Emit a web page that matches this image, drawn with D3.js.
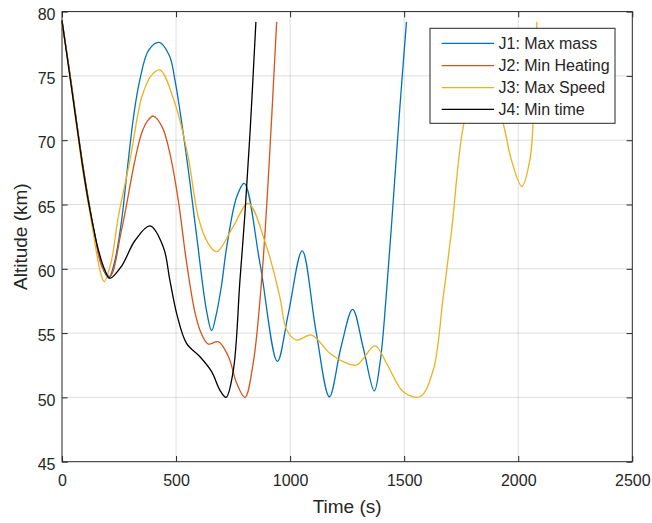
<!DOCTYPE html>
<html>
<head>
<meta charset="utf-8">
<script src="https://cdn.jsdelivr.net/npm/d3@7"></script>
<style>
  html, body { margin: 0; padding: 0; background: #fff; }
  svg { display: block; font-family: "Liberation Sans", Arial, Helvetica, sans-serif; }
</style>
</head>
<body>
<svg id="chart" width="652" height="523"></svg>
<script>
// ---- Data ----
const xTicks = [0, 500, 1000, 1500, 2000, 2500];
const yTicks = [45, 50, 55, 60, 65, 70, 75, 80];
const seriesNames = ["J1: Max mass", "J2: Min Heating", "J3: Max Speed", "J4: Min time"];
const seriesColors = ["#0072BD", "#D95319", "#EDB120", "#000000"];

const t1 = [0, 40, 90, 140, 175, 205, 230, 260, 291, 315, 340, 380, 426, 470, 495, 546, 590, 633, 656, 678, 700, 722, 766, 799, 868, 944, 992, 1053, 1113, 1172, 1223, 1274, 1320, 1369, 1395, 1420, 1445, 1480, 1510];
const alt1 = [79.3, 74.5, 68.2, 63.0, 60.2, 59.3, 60.5, 63.6, 68.5, 72.0, 74.6, 77.0, 77.6, 76.6, 74.7, 68.7, 62.6, 56.8, 55.2, 56.6, 58.8, 61.7, 65.6, 66.65, 60.4, 52.8, 56.5, 61.4, 55.2, 50.05, 53.9, 56.85, 53.9, 50.5, 52.8, 57.6, 63.5, 72.3, 79.2];

const t2 = [0, 40, 90, 140, 175, 210, 261, 320, 349, 375, 400, 440, 475, 510, 546, 583, 610, 641, 685, 729, 766, 802, 838, 875, 904, 941];
const alt2 = [79.3, 74.5, 68.2, 63.0, 60.2, 59.4, 63.0, 68.46, 70.54, 71.5, 71.88, 71.0, 68.8, 65.3, 60.5, 56.6, 55.0, 54.15, 54.33, 53.2, 51.1, 50.0, 52.65, 59.1, 66.9, 79.2];

const t3 = [0, 40, 90, 137, 165, 185, 215, 247, 298, 349, 390, 429, 495, 553, 597, 640, 678, 751, 816, 897, 955, 985, 1028, 1094, 1174, 1233, 1291, 1372, 1423, 1496, 1569, 1627, 1671, 1708, 1759, 1840, 1934, 1970, 2016, 2051, 2065, 2082];
const alt3 = [79.3, 74.3, 67.8, 62.8, 60.0, 59.0, 60.5, 64.05, 68.45, 73.3, 75.0, 75.46, 72.87, 68.7, 64.05, 62.0, 61.33, 63.3, 65.09, 61.7, 57.8, 55.24, 54.46, 54.85, 53.43, 52.78, 52.52, 54.0, 52.65, 50.44, 50.05, 52.1, 57.8, 63.0, 71.05, 76.5, 71.3, 68.46, 66.4, 68.46, 71.3, 79.2];

const t4 = [0, 40, 86, 115, 159, 188, 210, 261, 320, 386, 444, 473, 503, 546, 605, 656, 692, 719, 751, 780, 802, 824, 850];
const alt4 = [79.3, 74.3, 68.5, 65.3, 61.5, 59.9, 59.26, 60.2, 62.2, 63.33, 61.7, 59.1, 56.5, 54.2, 53.16, 52.0, 50.57, 50.0, 52.1, 59.1, 64.3, 70.5, 79.2];

const seriesT = [t1, t2, t3, t4];
const seriesAlt = [alt1, alt2, alt3, alt4];

(function () {
// ---- Layout ----
const svg = d3.select("#chart");
const pL = 62, pR = 632.3, pT = 11.6, pB = 461.7;
const axisColor = "#262626";
const tickLen = 5.7;

const x = d3.scaleLinear().domain([0, 2500]).range([pL, pR]);
const y = d3.scaleLinear().domain([45, 80]).range([pB, pT]);

svg.append("rect").attr("x", 0).attr("y", 0).attr("width", 652).attr("height", 523).attr("fill", "#fff");

// grid
const grid = svg.append("g");
grid.selectAll("line.gx").data(xTicks.slice(1, -1)).join("line")
  .attr("x1", d => x(d)).attr("x2", d => x(d)).attr("y1", pT).attr("y2", pB)
  .attr("stroke", axisColor).attr("stroke-opacity", 0.15).attr("stroke-width", 1);
grid.selectAll("line.gy").data(yTicks.slice(1, -1)).join("line")
  .attr("y1", d => y(d)).attr("y2", d => y(d)).attr("x1", pL).attr("x2", pR)
  .attr("stroke", axisColor).attr("stroke-opacity", 0.15).attr("stroke-width", 1);

// series
const line = d3.line().curve(d3.curveCatmullRom.alpha(0.5)).x(d => x(d[0])).y(d => y(d[1]));
const plot = svg.append("g");
seriesT.forEach((ts, i) => {
  const pts = ts.map((t, j) => [t, seriesAlt[i][j]]);
  plot.append("path").datum(pts)
    .attr("d", line)
    .attr("fill", "none")
    .attr("stroke", seriesColors[i])
    .attr("stroke-width", 1.3)
    .attr("stroke-linejoin", "round");
});

// axes
function styleAxis(g, showLabels) {
  g.select(".domain").remove();
  g.selectAll(".tick line").attr("stroke", axisColor).attr("stroke-width", 1);
  g.selectAll(".tick text").attr("fill", axisColor).attr("font-size", 16)
    .attr("font-family", "'Liberation Sans', Arial, Helvetica, sans-serif");
  if (!showLabels) g.selectAll(".tick text").remove();
}
svg.append("g").attr("transform", `translate(0,${pB})`)
  .call(d3.axisBottom(x).tickValues(xTicks).tickFormat(d3.format("d")).tickSizeInner(-tickLen).tickSizeOuter(0).tickPadding(13.4))
  .call(g => styleAxis(g, true));
svg.append("g").attr("transform", `translate(0,${pT})`)
  .call(d3.axisTop(x).tickValues(xTicks).tickSizeInner(-tickLen).tickSizeOuter(0))
  .call(g => styleAxis(g, false));
const yAx = svg.append("g").attr("transform", `translate(${pL},0)`)
  .call(d3.axisLeft(y).tickValues(yTicks).tickFormat(d3.format("d")).tickSizeInner(-tickLen).tickSizeOuter(0).tickPadding(6.5))
  .call(g => styleAxis(g, true));
yAx.selectAll(".tick text").attr("dy", "0.48em");
svg.append("g").attr("transform", `translate(${pR},0)`)
  .call(d3.axisRight(y).tickValues(yTicks).tickSizeInner(-tickLen).tickSizeOuter(0))
  .call(g => styleAxis(g, false));

// box
svg.append("rect").attr("x", pL).attr("y", pT).attr("width", pR - pL).attr("height", pB - pT)
  .attr("fill", "none").attr("stroke", axisColor).attr("stroke-width", 1);

// axis labels
svg.append("text").attr("x", (pL + pR) / 2).attr("y", 513.3)
  .attr("text-anchor", "middle").attr("font-size", 19).attr("fill", axisColor).text("Time (s)");
svg.append("text").attr("transform", `translate(26.7,${(pT + pB) / 2}) rotate(-90)`)
  .attr("text-anchor", "middle").attr("font-size", 19).attr("fill", axisColor).text("Altitude (km)");

// legend
const lg = svg.append("g");
lg.append("rect").attr("x", 430).attr("y", 28.3).attr("width", 185).attr("height", 95)
  .attr("fill", "#fff").attr("stroke", axisColor).attr("stroke-width", 1);
const rowY = [43.3, 65.7, 87.7, 109.3];
seriesNames.forEach((name, i) => {
  lg.append("line").attr("x1", 441.7).attr("x2", 494).attr("y1", rowY[i]).attr("y2", rowY[i])
    .attr("stroke", seriesColors[i]).attr("stroke-width", 1.3);
  lg.append("text").attr("x", 498.5).attr("y", rowY[i] + 5.7)
    .attr("font-size", 16).attr("fill", axisColor).text(name);
});
})();
</script>
</body>
</html>
